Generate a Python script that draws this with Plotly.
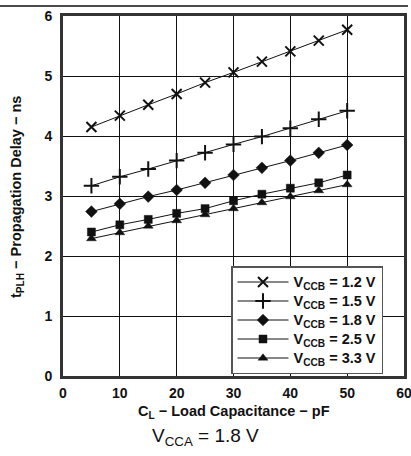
import plotly.graph_objects as go

cl_pf = [5, 10, 15, 20, 25, 30, 35, 40, 45, 50]
tplh_12 = [4.15, 4.34, 4.52, 4.70, 4.89, 5.06, 5.24, 5.41, 5.59, 5.77]
tplh_15 = [3.17, 3.32, 3.45, 3.59, 3.72, 3.86, 3.99, 4.13, 4.28, 4.42]
tplh_18 = [2.74, 2.87, 2.99, 3.10, 3.22, 3.35, 3.47, 3.59, 3.72, 3.85]
tplh_25 = [2.40, 2.52, 2.61, 2.71, 2.79, 2.92, 3.03, 3.13, 3.22, 3.35]
tplh_33 = [2.29, 2.39, 2.50, 2.59, 2.69, 2.79, 2.89, 2.99, 3.09, 3.19]
vccb_labels = ["1.2 V", "1.5 V", "1.8 V", "2.5 V", "3.3 V"]

symbols = ["x-thin-open", "cross-thin-open", "diamond", "square", "triangle-up"]
sizes = [10, 11, 9, 8, 8.5]
outline = [2, 2, 0.5, 0.5, 0.5]
values = [tplh_12, tplh_15, tplh_18, tplh_25, tplh_33]

FONT = "Liberation Sans, Arial, sans-serif"

fig = go.Figure()
for lab, ys, sym, sz, lw in zip(vccb_labels, values, symbols, sizes, outline):
    name = ('<span style="font-size:14.5px"><b>V<sub>CCB</sub> = '
            + lab + '</b></span>')
    fig.add_trace(go.Scatter(
        x=cl_pf, y=ys, mode="lines+markers", name=name,
        line=dict(color="#111", width=1),
        marker=dict(symbol=sym, size=sz, color="#111",
                    line=dict(color="#111", width=lw)),
    ))

W, H = 411, 456
L, R, T, B = 0, 3, 4, 80
PW = W - L - R          # paper width (pixel 0 .. 408)
PH = H - T - B          # paper height (pixel 4 .. 376)
PLOT_L, PLOT_R, PLOT_T, PLOT_B = 63, 404, 16, 376

def px(xp):
    return (xp - L) / PW

def py(yp):
    return (H - B - yp) / PH

fig.update_layout(
    width=W, height=H, autosize=False,
    margin=dict(l=L, r=R, t=T, b=B),
    paper_bgcolor="white", plot_bgcolor="white",
    font=dict(family=FONT, color="#111", size=13),
    showlegend=True,
    legend=dict(
        x=px(231), y=py(266), xanchor="left", yanchor="top",
        bgcolor="white", bordercolor="#555", borderwidth=1.5,
        font=dict(family=FONT, size=11.8, color="#111"),
        tracegroupgap=0, itemwidth=51,
    ),
    xaxis=dict(
        domain=[px(PLOT_L), px(PLOT_R)],
        range=[0, 60], dtick=10, tick0=0, automargin=False,
        showgrid=True, gridcolor="#111", gridwidth=1,
        showline=True, linecolor="#333", linewidth=3, mirror=True,
        zeroline=False, ticklabeloverflow="allow",
        ticks="outside", ticklen=2, tickcolor="rgba(0,0,0,0)",
        tickfont=dict(family=FONT, size=14, weight="bold", color="#111"),
    ),
    yaxis=dict(
        domain=[py(PLOT_B), py(PLOT_T)],
        range=[0, 6], dtick=1, tick0=0, automargin=False,
        showgrid=True, gridcolor="#111", gridwidth=1,
        showline=True, linecolor="#333", linewidth=3, mirror=True,
        zeroline=False, ticklabeloverflow="allow",
        ticks="outside", ticklen=5, tickcolor="rgba(0,0,0,0)",
        tickfont=dict(family=FONT, size=14, weight="bold", color="#111"),
    ),
)

# page rule across the top
fig.add_shape(
    type="line", xref="paper", yref="paper", layer="above",
    x0=0, x1=1, y0=py(6), y1=py(6),
    line=dict(color="#111", width=1.5),
)

fig.add_annotation(
    text="<b>t<sub>PLH</sub> − Propagation Delay − ns</b>",
    xref="paper", yref="paper", x=px(17), y=py(197), textangle=-90,
    xanchor="center", yanchor="middle",
    showarrow=False, font=dict(family=FONT, size=14.5, color="#111"),
)
fig.add_annotation(
    text="<b>C<sub>L</sub> − Load Capacitance − pF</b>",
    xref="paper", yref="paper", x=px((PLOT_L + PLOT_R) / 2), y=py(412),
    xanchor="center", yanchor="middle",
    showarrow=False, font=dict(family=FONT, size=14.5, color="#111"),
)
fig.add_annotation(
    text="V<sub>CCA</sub> = 1.8 V",
    xref="paper", yref="paper", x=px(205), y=py(437),
    xanchor="center", yanchor="middle",
    showarrow=False, font=dict(family=FONT, size=19, color="#111"),
)

fig.write_html("out.html")
